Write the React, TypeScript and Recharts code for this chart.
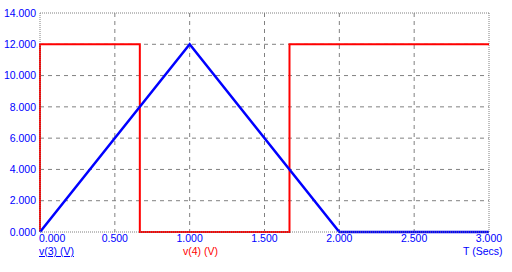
import { CartesianGrid, Line, LineChart, ReferenceLine, XAxis, YAxis } from "recharts";

// time axis (seconds) and node voltages
const redTimes = [0, 0, 0.667, 0.667, 1.667, 1.667, 3];
const redVolts = [0, 12, 12, 0, 0, 12, 12];
const blueTimes = [0, 1, 2, 3];
const blueVolts = [0, 12, 0, 0];

const xTicks = [0, 0.5, 1, 1.5, 2, 2.5, 3];
const yTicks = [0, 2, 4, 6, 8, 10, 12, 14];

const BLUE = "#0000ff";
const RED = "#ff0000";
const FONT = "'Liberation Sans', Arial, sans-serif";

const v4 = redTimes.map((t, i) => ({ t, v: redVolts[i] }));
const v3 = blueTimes.map((t, i) => ({ t, v: blueVolts[i] }));

const tickStyle = { fontSize: 10.5, fill: BLUE, fontFamily: FONT };
const fmt = (n: number) => n.toFixed(3);

const labelStyle = { position: "absolute" as const, top: 245, fontSize: 10.5, fontFamily: FONT };

// first time label sits to the right of the origin, the rest are centred
function TimeTick(props: any) {
  const { x, y, payload } = props;
  const first = payload.value === xTicks[0];
  return (
    <text x={first ? x - 1 : x} y={y} dy="0.71em" textAnchor={first ? "start" : "middle"} {...tickStyle}>
      {fmt(payload.value)}
    </text>
  );
}

export default function App() {
  return (
    <div style={{ position: "absolute", left: 0, top: 0, width: 512, height: 272, background: "#fff" }}>
      <LineChart width={512} height={272} margin={{ top: 13, right: 23, bottom: 0, left: 0 }}>
        <CartesianGrid
          stroke="#808080"
          strokeDasharray="4 4"
          horizontalValues={[2, 4, 6, 8, 10, 12]}
          verticalValues={[0.5, 1, 1.5, 2, 2.5]}
        />
        <XAxis
          dataKey="t"
          type="number"
          domain={[0, 3]}
          ticks={xTicks}
          height={40}
          tickLine={false}
          tickSize={2}
          tickMargin={1}
          axisLine={{ stroke: "#808080", strokeDasharray: "1 1" }}
          tick={<TimeTick />}
          allowDuplicatedCategory={false}
        />
        <YAxis
          type="number"
          domain={[0, 14]}
          ticks={yTicks}
          tickFormatter={fmt}
          width={40}
          tickLine={false}
          tickSize={2}
          tickMargin={2}
          axisLine={{ stroke: "#808080", strokeDasharray: "1 1" }}
          tick={tickStyle}
        />
        <ReferenceLine y={14} stroke="#808080" strokeDasharray="1 1" />
        <ReferenceLine x={3} stroke="#808080" strokeDasharray="1 1" />
        <Line
          data={v4}
          dataKey="v"
          type="linear"
          stroke={RED}
          strokeWidth={2}
          dot={false}
          isAnimationActive={false}
        />
        <Line
          data={v3}
          dataKey="v"
          type="linear"
          stroke={BLUE}
          strokeWidth={2.5}
          dot={false}
          isAnimationActive={false}
        />
      </LineChart>
      <span style={{ ...labelStyle, left: 39, color: BLUE, textDecoration: "underline" }}>v(3) (V)</span>
      <span style={{ ...labelStyle, left: 183, color: RED }}>v(4) (V)</span>
      <span style={{ ...labelStyle, left: 463, color: BLUE }}>T (Secs)</span>
    </div>
  );
}
